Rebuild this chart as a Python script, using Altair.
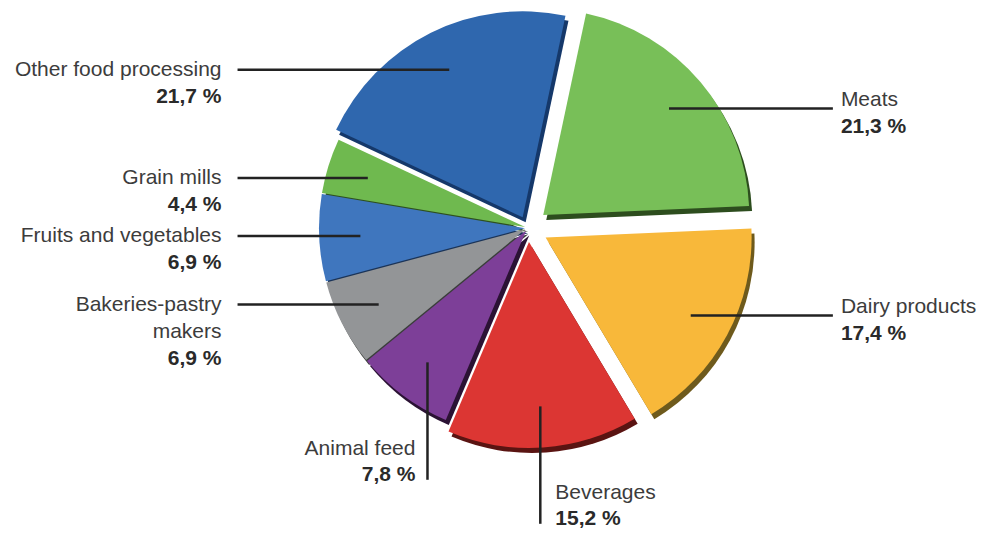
import math
import altair as alt
import pandas as pd

# ---- data ----
categories = ["Meats", "Dairy products", "Beverages", "Animal feed",
              "Bakeries-pastry makers", "Fruits and vegetables", "Grain mills",
              "Other food processing"]
shares = [21.3, 17.4, 15.2, 7.8, 6.9, 6.9, 4.4, 21.7]
pct_labels = ["21,3 %", "17,4 %", "15,2 %", "7,8 %", "6,9 %", "6,9 %", "4,4 %", "21,7 %"]
name_lines = [["Meats"], ["Dairy products"], ["Beverages"], ["Animal feed"],
              ["Bakeries-pastry", "makers"], ["Fruits and vegetables"],
              ["Grain mills"], ["Other food processing"]]

# ---- styles ----
colors = ["#78bf58", "#f8b83a", "#dc3633", "#7d3f98", "#939597", "#3f76be",
          "#6fb94f", "#2f67ae"]
shadow_colors = ["#2d4d1e", "#6e5a1c", "#5a1412", "#2b1234", "#3a3e3a",
                 "#1b3458", "#2e5020", "#15386a"]
explode = [20, 20, 14, 3, 3, 3, 3, 12]
label_side = ["right", "right", "bottom", "bottom", "left", "left", "left", "left"]

# ---- layout ----
W, H = 968, 526
CX, CY = 520, 220
R = 206
START = math.radians(12)
LINE_H = 27
FONT = "Liberation Sans"

total = sum(shares)
slices, shadows, rules, texts = [], [], [], []
cum = 0.0
for i, cat in enumerate(categories):
    a0 = START + 2 * math.pi * cum / total
    cum += shares[i]
    a1 = START + 2 * math.pi * cum / total
    mid = (a0 + a1) / 2
    ox = explode[i] * math.sin(mid)
    oy = explode[i] * math.cos(mid)
    slices.append(dict(cat=cat, a0=a0, a1=a1, x=ox, y=oy, color=colors[i]))
    shadows.append(dict(cat=cat, a0=a0, a1=a1, x=ox + 3, y=oy - 5, color=shadow_colors[i]))

    ax = ox + 0.8 * R * math.sin(mid)
    ay = oy + 0.8 * R * math.cos(mid)
    side = label_side[i]
    lines = name_lines[i]
    if side == "left":
        lx = -1.41 * R
        rules.append(dict(x=lx, x2=ax, y=ay, y2=ay))
        for k, t in enumerate(lines):
            texts.append(dict(text=t, x=lx - 16, y=ay - k * LINE_H, align="right", bold=False))
        texts.append(dict(text=pct_labels[i], x=lx - 16, y=ay - len(lines) * LINE_H, align="right", bold=True))
    elif side == "right":
        rx = 1.48 * R
        rules.append(dict(x=ax, x2=rx, y=ay, y2=ay))
        for k, t in enumerate(lines):
            texts.append(dict(text=t, x=rx + 8, y=ay + 9 - k * LINE_H, align="left", bold=False))
        texts.append(dict(text=pct_labels[i], x=rx + 8, y=ay + 9 - len(lines) * LINE_H, align="left", bold=True))
    else:
        ey = ay - 0.57 * R
        rules.append(dict(x=ax, x2=ax, y=ay, y2=ey))
        if math.sin(mid) < 0:
            tx, al = ax - 12, "right"
        else:
            tx, al = ax + 15, "left"
        texts.append(dict(text=lines[0], x=tx, y=ey + 31, align=al, bold=False))
        texts.append(dict(text=pct_labels[i], x=tx, y=ey + 5, align=al, bold=True))

xs = alt.Scale(domain=[-CX, W - CX], nice=False, zero=False)
ys = alt.Scale(domain=[-(H - CY), CY], nice=False, zero=False)

def arc_layer(rows):
    return alt.Chart(pd.DataFrame(rows)).mark_arc(outerRadius=R, innerRadius=0).encode(
        theta=alt.Theta("a0:Q", scale=None),
        theta2="a1",
        x=alt.X("x:Q", scale=xs, axis=None),
        y=alt.Y("y:Q", scale=ys, axis=None),
        color=alt.Color("color:N", scale=None),
    )

shadow_layer = arc_layer(shadows)
slice_layer = arc_layer(slices)

rule_layer = alt.Chart(pd.DataFrame(rules)).mark_rule(color="#222222", strokeWidth=2.5).encode(
    x=alt.X("x:Q", scale=xs, axis=None),
    x2="x2",
    y=alt.Y("y:Q", scale=ys, axis=None),
    y2="y2",
)

tdf = pd.DataFrame(texts)
text_layers = []
for al in ["left", "right"]:
    for b in [False, True]:
        sub = tdf[(tdf["align"] == al) & (tdf["bold"] == b)]
        if len(sub) == 0:
            continue
        text_layers.append(
            alt.Chart(sub).mark_text(
                align=al, baseline="middle", font=FONT, fontSize=21,
                fontWeight="bold" if b else "normal",
                color="#2a2a2a" if b else "#3c3c3c",
            ).encode(
                x=alt.X("x:Q", scale=xs, axis=None),
                y=alt.Y("y:Q", scale=ys, axis=None),
                text="text:N",
            )
        )

chart = alt.layer(shadow_layer, slice_layer, rule_layer, *text_layers).properties(
    width=W, height=H, padding=0, autosize="none", background="white"
).configure_view(stroke=None)

chart.save("out.html", embed_options={"renderer": "svg", "actions": False})
